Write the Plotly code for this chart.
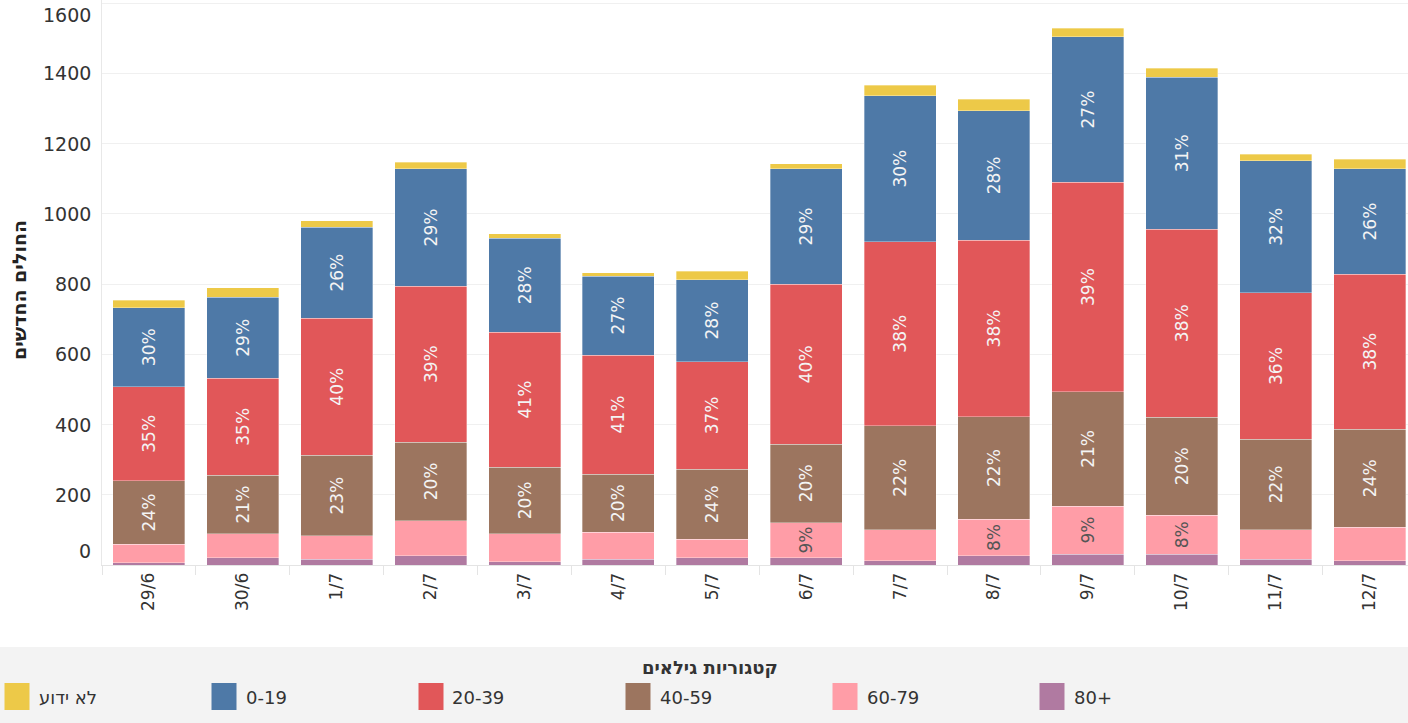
import plotly.graph_objects as go

# ---------------- data ----------------
dates = ["29/6", "30/6", "1/7", "2/7", "3/7", "4/7", "5/7",
         "6/7", "7/7", "8/7", "9/7", "10/7", "11/7", "12/7"]

age_80_plus = [7, 21, 16, 26, 9, 16, 21, 21, 12, 26, 31, 31, 16, 12]
age_60_79 = [52, 68, 67, 100, 80, 77, 52, 100, 89, 104, 137, 110, 85, 95]
age_40_59 = [181, 166, 229, 224, 190, 166, 200, 223, 295, 292, 325, 280, 257, 280]
age_20_39 = [267, 277, 391, 444, 384, 339, 306, 455, 525, 503, 597, 535, 417, 441]
age_0_19 = [226, 230, 259, 334, 267, 225, 234, 330, 415, 369, 414, 433, 376, 300]
unknown = [21, 27, 18, 19, 13, 9, 24, 13, 30, 32, 24, 25, 19, 28]

# percentage labels shown inside the segments
labels_80_plus = [""] * 14
labels_60_79 = ["", "", "", "", "", "", "", "9%", "", "8%", "9%", "8%", "", ""]
labels_40_59 = ["24%", "21%", "23%", "20%", "20%", "20%", "24%", "20%", "22%", "22%", "21%", "20%", "22%", "24%"]
labels_20_39 = ["35%", "35%", "40%", "39%", "41%", "41%", "37%", "40%", "38%", "38%", "39%", "38%", "36%", "38%"]
labels_0_19 = ["30%", "29%", "26%", "29%", "28%", "27%", "28%", "29%", "30%", "28%", "27%", "31%", "32%", "26%"]
labels_unknown = [""] * 14

y_ticks = [0, 200, 400, 600, 800, 1000, 1200, 1400, 1600]

series_names = ["80+", "60-79", "40-59", "20-39", "0-19", "לא ידוע"]
series_values = [age_80_plus, age_60_79, age_40_59, age_20_39, age_0_19, unknown]
series_labels = [labels_80_plus, labels_60_79, labels_40_59, labels_20_39, labels_0_19, labels_unknown]
series_colors = ["#B07AA1", "#FF9DA7", "#9C755F", "#E15759", "#4E79A7", "#EDC948"]
label_colors = ["#f4f4f4", "#555555", "#f4f4f4", "#f4f4f4", "#f4f4f4", "#f4f4f4"]

legend_title = "קטגוריות גילאים"
y_title = "החולים החדשים"
legend_order = ["לא ידוע", "0-19", "20-39", "40-59", "60-79", "80+"]

# ---------------- layout geometry ----------------
FIG_W, FIG_H = 1408, 723
M_L, M_R, M_T, M_B = 102, 0, 0, 158
PLOT_W = FIG_W - M_L - M_R
PLOT_H = FIG_H - M_T - M_B
FONT = "DejaVu Sans, Liberation Sans, sans-serif"


def px_x(p):
    return (p - M_L) / PLOT_W


def px_y(p):
    return (M_T + PLOT_H - p) / PLOT_H


fig = go.Figure()
for name, vals, labs, col, lcol in zip(series_names, series_values, series_labels,
                                        series_colors, label_colors):
    fig.add_trace(go.Bar(
        x=dates, y=vals, name=name,
        marker=dict(color=col, line=dict(color="rgba(255,255,255,0.55)", width=0.6)),
        text=labs, textposition="inside", insidetextanchor="middle",
        textangle=-90, constraintext="none",
        textfont=dict(family=FONT, size=17, color=lcol),
        showlegend=False,
        hovertemplate="%{x}<br>" + name + ": %{y}<extra></extra>",
    ))

shapes = []
annotations = []

# y tick labels (Tableau keeps the end labels inside the pane)
for v in y_ticks:
    shift = 0
    if v == y_ticks[0]:
        shift = 14
    elif v == y_ticks[-1]:
        shift = -12
    annotations.append(dict(
        x=0, xref="paper", y=v, yref="y", text=str(v), showarrow=False,
        xanchor="right", yanchor="middle", xshift=-9, yshift=shift,
        font=dict(family=FONT, size=19, color="#333333"),
    ))

# y axis title
annotations.append(dict(
    x=px_x(19), xref="paper", y=px_y(290), yref="paper", text="<b>" + y_title + "</b>",
    showarrow=False, textangle=-90, xanchor="center", yanchor="middle",
    font=dict(family=FONT, size=19, color="#222222"),
))

# legend panel
shapes.append(dict(type="rect", xref="paper", yref="paper",
                   x0=px_x(0), x1=px_x(FIG_W), y0=px_y(647), y1=px_y(FIG_H),
                   fillcolor="#f3f3f3", line=dict(width=0), layer="below"))
annotations.append(dict(
    x=px_x(710), xref="paper", y=px_y(667), yref="paper", text="<b>" + legend_title + "</b>",
    showarrow=False, xanchor="center", yanchor="middle",
    font=dict(family=FONT, size=18, color="#333333"),
))
color_of = dict(zip(series_names, series_colors))
for i, name in enumerate(legend_order):
    left = 4.5 + i * 207
    shapes.append(dict(type="rect", xref="paper", yref="paper",
                       x0=px_x(left), x1=px_x(left + 25), y0=px_y(710), y1=px_y(683),
                       fillcolor=color_of[name], line=dict(width=0)))
    annotations.append(dict(
        x=px_x(left + 32), xref="paper", y=px_y(697), yref="paper", text=name,
        showarrow=False, xanchor="left", yanchor="middle",
        font=dict(family=FONT, size=18, color="#333333"),
    ))

fig.update_layout(
    barmode="stack",
    bargap=0.233,
    width=FIG_W, height=FIG_H,
    margin=dict(l=M_L, r=M_R, t=M_T, b=M_B, pad=0),
    paper_bgcolor="white", plot_bgcolor="white",
    shapes=shapes, annotations=annotations,
    showlegend=False,
    xaxis=dict(
        type="category", categoryorder="array", categoryarray=dates,
        range=[-0.5, 13.41], tickangle=-90,
        ticks="outside", tickson="boundaries", ticklen=9, tickcolor="#e4e4e4",
        showgrid=False, showline=True, linecolor="#e4e4e4", linewidth=1,
        tickfont=dict(family=FONT, size=17, color="#333333"),
        fixedrange=True,
    ),
    yaxis=dict(
        range=[0, 1609], tickvals=y_ticks, showticklabels=False,
        showgrid=True, gridcolor="#f0f0f0", gridwidth=1,
        zeroline=False, showline=True, linecolor="#e8e8e8", linewidth=1,
        ticks="", fixedrange=True,
    ),
)

fig.write_html(
    "out.html",
    config={"displayModeBar": False},
    post_script="document.body.style.margin='0';document.body.style.overflow='hidden';",
)
